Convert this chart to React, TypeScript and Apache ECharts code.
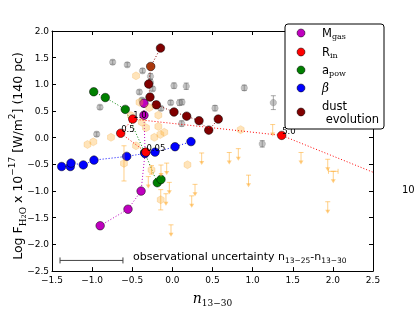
import React, { useEffect, useRef } from "react";
import * as echarts from "echarts";

// ---------- model tracks [n13-30, log F] ----------
const mgasPts = [[-0.9, -1.65], [-0.553, -1.34], [-0.39, -1.0], [-0.34, -0.28], [-0.354, 0.42], [-0.354, 0.645]];
const rinPts = [[-0.33, -0.27], [-0.644, 0.084], [-0.494, 0.35], [1.362, 0.043], [3.0, -0.95]];
const rinLabels = ["0.05", "0.5", "1.0", "5.0", "10.0"];
const apowPts = [[-0.98, 0.861], [-0.836, 0.753], [-0.587, 0.531], [-0.345, -0.28], [-0.188, -0.843], [-0.142, -0.783]];
const betaPts = [[-1.38, -0.54], [-1.272, -0.54], [-1.263, -0.476], [-1.11, -0.51], [-0.977, -0.42], [-0.569, -0.35], [-0.341, -0.295], [-0.216, -0.27], [0.033, -0.169], [0.232, -0.073]];
const dustPts = [[-0.148, 1.68], [-0.27, 1.335], [-0.295, 1.006], [-0.279, 0.762], [-0.2, 0.617], [0.02, 0.482], [0.178, 0.404], [0.332, 0.319], [0.453, 0.142], [0.572, 0.35]];

// ---------- observations [x, y, yerr] ----------
const grayObs = [
  [-0.744, 1.416, 0.04], [-0.562, 1.367, 0.04], [-0.902, 0.572, 0.04], [-0.943, 0.066, 0.04],
  [-0.412, 0.856, 0.04], [-0.372, 1.255, 0.04], [-0.273, 1.15, 0.05], [-0.273, 1.04, 0.05],
  [-0.245, 0.916, 0.04], [0.02, 0.975, 0.05], [0.173, 0.964, 0.06], [0.896, 0.934, 0.05],
  [-0.021, 0.657, 0.04], [0.089, 0.657, 0.05], [0.12, 0.668, 0.05], [0.531, 0.554, 0.05],
  [1.258, 0.657, 0.13], [-0.142, 0.549, 0.04], [-0.379, 0.704, 0.04], [0.116, 0.265, 0.05],
  [1.12, -0.115, 0.06],
];
const tanObs = [
  [-0.453, 1.16, 0], [-0.41, 0.663, 0], [-0.288, 0.563, 0], [-0.175, 0.422, 0], [-0.516, 0.415, 0],
  [-0.382, 0.292, 0], [-0.329, 0.187, 0], [-0.175, 0.211, 0], [-0.225, 0.007, 0], [-0.15, 0.061, 0],
  [-0.101, 0.102, 0], [-0.453, -0.151, 0], [-0.765, 0.007, 0], [-0.985, -0.078, 0], [-1.058, -0.127, 0],
  [0.851, 0.151, 0], [-0.603, -0.481, 0.33], [-0.26, -0.603, 0.08], [0.188, -0.507, 0], [-0.145, -1.163, 0.19],
  [-0.27, 1.335, 0],
];
// upper limits [x, y, xerr]
const tanLimits = [
  [-0.071, -0.476, 0], [-0.142, -0.512, 0], [-0.3, -0.729, 0], [-0.038, -0.837, 0], [-0.08, -1.05, 0],
  [0.365, -0.286, 0], [0.709, -0.277, 0], [0.822, -0.205, 0], [0.949, -0.702, 0], [0.241, -1.09, 0],
  [0.282, -0.874, 0], [-0.017, -1.633, 0], [1.603, -0.277, 0], [1.936, -0.404, 0], [2.005, -0.63, 0.06],
  [1.936, -1.2, 0], [1.25, 0.247, 0],
];
// observational uncertainty bar [xcenter, y, xhalfwidth]
const obsUnc = [[-1.008, -2.3, 0.392]];
const obsLabel = "observational uncertainty n{s|13−25}-n{s|13−30}";

const xTicks = { min: -1.5, max: 2.5, interval: 0.5 };
const yTicks = { min: -2.5, max: 2.0, interval: 0.5 };

const legendNames = ["M{s|gas}", "R{s|in}", "a{s|pow}", "{b|β}", "dust\n evolution"];

const SANS = "'DejaVu Sans', sans-serif";
const SERIF = "'DejaVu Serif', serif";
const MAG = "#bf00bf", RED = "#ff0000", GREEN = "#008000", BLUE = "#0000ff", DRED = "#800000";
const legendColors = [MAG, RED, GREEN, BLUE, DRED];
const GRAY = "rgba(128,128,128,0.6)";
const TAN = "rgba(255,170,40,0.4)";
const TANLINE = "rgba(255,170,40,0.55)";

const fmt = (v: number) => v.toFixed(1).replace("-", "−");

function vErr(color: string) {
  return (_p: any, api: any) => {
    const x = api.value(0), y = api.value(1), e = api.value(2);
    if (!e) return { type: "group", children: [] };
    const a = api.coord([x, y + e]), b = api.coord([x, y - e]);
    const st = { stroke: color, lineWidth: 1 };
    return {
      type: "group",
      children: [
        { type: "line", shape: { x1: a[0], y1: a[1], x2: b[0], y2: b[1] }, style: st },
        { type: "line", shape: { x1: a[0] - 2.5, y1: a[1], x2: a[0] + 2.5, y2: a[1] }, style: st },
        { type: "line", shape: { x1: b[0] - 2.5, y1: b[1], x2: b[0] + 2.5, y2: b[1] }, style: st },
      ],
    };
  };
}

function upLim(_p: any, api: any) {
  const x = api.value(0), y = api.value(1), xe = api.value(2);
  const p = api.coord([x, y]);
  const L = 12;
  const st = { stroke: TANLINE, lineWidth: 1 };
  const ch: any[] = [
    { type: "line", shape: { x1: p[0] - 2.5, y1: p[1], x2: p[0] + 2.5, y2: p[1] }, style: st },
    { type: "line", shape: { x1: p[0], y1: p[1], x2: p[0], y2: p[1] + L - 2 }, style: st },
    { type: "polygon", shape: { points: [[p[0] - 2.5, p[1] + L - 4], [p[0] + 2.5, p[1] + L - 4], [p[0], p[1] + L]] }, style: { fill: TANLINE } },
  ];
  if (xe) {
    const l = api.coord([x - xe, y]), r = api.coord([x + xe, y]);
    ch.push({ type: "line", shape: { x1: l[0], y1: l[1], x2: r[0], y2: r[1] }, style: st });
    ch.push({ type: "line", shape: { x1: l[0], y1: l[1] - 2.5, x2: l[0], y2: l[1] + 2.5 }, style: st });
    ch.push({ type: "line", shape: { x1: r[0], y1: r[1] - 2.5, x2: r[0], y2: r[1] + 2.5 }, style: st });
  }
  return { type: "group", children: ch };
}

function uncRender(_p: any, api: any) {
  const x = api.value(0), y = api.value(1), xe = api.value(2);
  const l = api.coord([x - xe, y]), r = api.coord([x + xe, y]);
  const st = { stroke: "#444", lineWidth: 1 };
  return {
    type: "group",
    children: [
      { type: "line", shape: { x1: l[0], y1: l[1], x2: r[0], y2: r[1] }, style: st },
      { type: "line", shape: { x1: l[0], y1: l[1] - 3, x2: l[0], y2: l[1] + 3 }, style: st },
      { type: "line", shape: { x1: r[0], y1: r[1] - 3, x2: r[0], y2: r[1] + 3 }, style: st },
      {
        type: "text",
        x: r[0] + 10,
        y: r[1] - 3.5,
        style: {
          text: obsLabel,
          fill: "#000",
          fontSize: 11,
          fontFamily: SANS,
          align: "left",
          verticalAlign: "middle",
          lineHeight: 16,
          rich: { s: { fontSize: 7.5, fontFamily: SANS, verticalAlign: "bottom", lineHeight: 9, fill: "#000" } },
        },
      },
    ],
  };
}

// value labels drawn at each R_in point (left edge at the point, baseline at the point)
function rinLabelRender(params: any, api: any) {
  const x = api.value(0), y = api.value(1);
  const p = api.coord([x, y]);
  const inside = params.coordSys && p[0] >= params.coordSys.x && p[0] <= params.coordSys.x + params.coordSys.width;
  if (!inside) return { type: "group", children: [] };
  return {
    type: "text",
    x: p[0] + 0.5,
    y: p[1] - 4.5,
    style: {
      text: rinLabels[params.dataIndex],
      fill: "#000",
      fontSize: 8.5,
      fontFamily: SANS,
      align: "left",
      verticalAlign: "middle",
    },
  };
}

function modelLine(name: string, pts: number[][], color: string, extra: any = {}) {
  return {
    name,
    type: "line",
    data: pts,
    symbol: "circle",
    symbolSize: 8.5,
    showSymbol: true,
    clip: true,
    z: 3,
    itemStyle: { color, borderColor: "#000", borderWidth: 0.5 },
    lineStyle: { color, width: 1, type: [1, 2] },
    emphasis: { disabled: true },
    ...extra,
  };
}

const HEX = "path://M0,-1 L0.866,-0.5 L0.866,0.5 L0,1 L-0.866,0.5 L-0.866,-0.5 Z";

export default function App() {
  const ref = useRef<HTMLDivElement>(null);
  useEffect(() => {
    const chart = echarts.init(ref.current!, null, { renderer: "svg" });
    const axisCommon = {
      type: "value",
      splitLine: { show: false },
      axisLine: { show: true, onZero: false, lineStyle: { color: "#000", width: 1 } },
      axisTick: { show: true, inside: true, length: 4, lineStyle: { color: "#000" } },
    };
    const legendY = [33, 52, 70, 88, 112];
    const legendGraphics: any[] = [
      { type: "rect", z: 100, shape: { x: 285, y: 24, width: 99, height: 105, r: 3 }, style: { fill: "#fff", stroke: "#000", lineWidth: 1 } },
    ];
    legendNames.forEach((n, i) => {
      legendGraphics.push({ type: "circle", z: 101, shape: { cx: 301, cy: legendY[i], r: 4 }, style: { fill: legendColors[i], stroke: "#000", lineWidth: 0.5 } });
      legendGraphics.push({
        type: "text", z: 101, x: 322, y: legendY[i],
        style: {
          text: n, fill: "#000", fontSize: 11.5, fontFamily: SANS, align: "left", verticalAlign: "middle",
          lineHeight: i === 4 ? 13 : 14,
          rich: {
            s: { fontSize: 8, fontFamily: SERIF, verticalAlign: "bottom", lineHeight: 8, fill: "#000" },
            b: { fontSize: 12, fontFamily: SERIF, fontStyle: "italic", fill: "#000" },
          },
        },
      });
    });
    const option: any = {
      animation: false,
      grid: { left: 52, right: 42, top: 31, bottom: 32, containLabel: false },
      xAxis: [
        {
          ...axisCommon, position: "bottom", ...xTicks,
          axisLabel: { show: true, formatter: fmt, color: "#000", fontSize: 9, fontFamily: SANS, margin: 4, showMinLabel: true, showMaxLabel: true },
          name: "{i|n}{s|13−30}", nameLocation: "middle", nameGap: 15,
          nameTextStyle: {
            lineHeight: 18,
            rich: {
              i: { fontFamily: SERIF, fontStyle: "italic", fontSize: 14, color: "#000" },
              s: { fontFamily: SERIF, fontSize: 9, verticalAlign: "bottom", lineHeight: 10, color: "#000" },
            },
          },
        },
        { ...axisCommon, position: "top", ...xTicks, axisLabel: { show: false } },
      ],
      yAxis: [
        {
          ...axisCommon, position: "left", ...yTicks,
          axisLabel: { show: true, formatter: fmt, color: "#000", fontSize: 9, fontFamily: SANS, margin: 3, showMinLabel: true, showMaxLabel: true },
        },
        { ...axisCommon, position: "right", ...yTicks, axisLabel: { show: false } },
      ],
      graphic: [
        {
          type: "text", x: 17, y: 156, rotation: Math.PI / 2,
          style: {
            text: "Log F{s|H}{ss|2}{s|O} x 10{p|−17} [W/m{p|2}] (140 pc)",
            fill: "#000", fontSize: 12.5, fontFamily: SANS, align: "center", verticalAlign: "middle", lineHeight: 20,
            rich: {
              s: { fontSize: 9, fontFamily: SERIF, verticalAlign: "bottom", lineHeight: 11, fill: "#000" },
              ss: { fontSize: 6.5, fontFamily: SERIF, verticalAlign: "bottom", lineHeight: 8, fill: "#000" },
              p: { fontSize: 9, fontFamily: SANS, verticalAlign: "top", lineHeight: 10, fill: "#000" },
            },
          },
        },
        { type: "text", x: 402, y: 189, style: { text: "10", fill: "#000", fontSize: 10, fontFamily: SANS, verticalAlign: "middle" } },
        ...legendGraphics,
      ],
      series: [
        { type: "custom", name: "grayErr", data: grayObs, encode: { x: 0, y: 1 }, renderItem: vErr("rgba(110,110,110,0.6)"), z: 1, clip: true, silent: true },
        { type: "scatter", name: "gray", data: grayObs.map((d) => [d[0], d[1]]), symbol: "circle", symbolSize: 6.5, z: 2, itemStyle: { color: GRAY, borderColor: "rgba(90,90,90,0.5)", borderWidth: 0.5 }, emphasis: { disabled: true } },
        modelLine("M_gas", mgasPts, MAG),
        modelLine("a_pow", apowPts, GREEN),
        modelLine("beta", betaPts, BLUE),
        modelLine("dust evolution", dustPts, DRED),
        { type: "custom", name: "tanErr", data: tanObs, encode: { x: 0, y: 1 }, renderItem: vErr(TANLINE), z: 4, clip: true, silent: true },
        { type: "scatter", name: "tan", data: tanObs.map((d) => [d[0], d[1]]), symbol: HEX, symbolKeepAspect: true, symbolSize: 8, z: 4, itemStyle: { color: TAN, borderColor: "rgba(235,150,30,0.45)", borderWidth: 0.6 }, emphasis: { disabled: true } },
        { type: "custom", name: "limits", data: tanLimits, encode: { x: 0, y: 1 }, renderItem: upLim, z: 4, clip: true, silent: true },
        modelLine("R_in", rinPts, RED, { z: 5 }),
        { type: "custom", name: "R_in labels", data: rinPts, encode: { x: 0, y: 1 }, renderItem: rinLabelRender, z: 6, silent: true },
        { type: "custom", name: "uncertainty", data: obsUnc, encode: { x: 0, y: 1 }, renderItem: uncRender, z: 5, silent: true },
      ],
    };
    chart.setOption(option);
    return () => chart.dispose();
  }, []);
  return <div ref={ref} style={{ position: "fixed", left: 0, top: 0, width: 415, height: 312 }} />;
}
